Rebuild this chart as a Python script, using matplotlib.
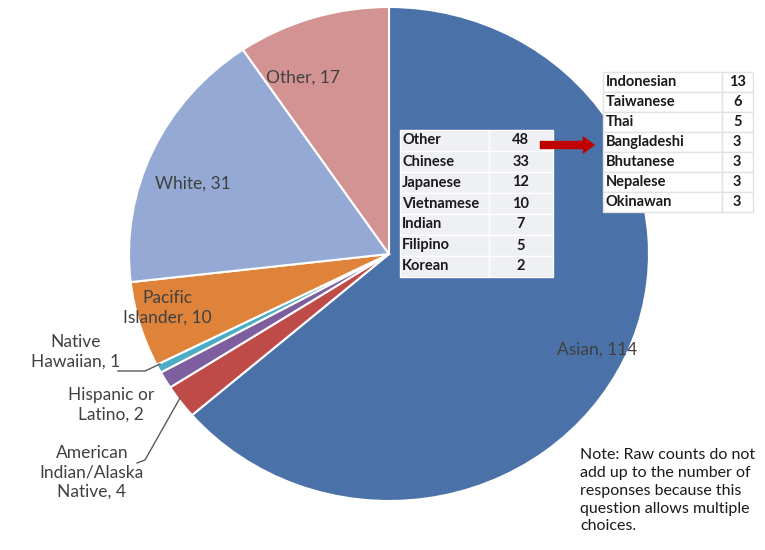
import matplotlib.pyplot as plt

plt.rcParams['font.family'] = ['Lato', 'DejaVu Sans']

# pie data, clockwise from 12 o'clock
groups = ['Asian', 'American Indian/Alaska Native', 'Hispanic or Latino',
          'Native Hawaiian', 'Pacific Islander', 'White', 'Other']
counts = [114, 4, 2, 1, 10, 31, 17]
colors = ['#4A72A8', '#BE4B48', '#7D5FA0', '#4BACC6', '#E0833A', '#94A9D4', '#D39393']

# breakdown of Asian
asian_names = ['Other', 'Chinese', 'Japanese', 'Vietnamese', 'Indian', 'Filipino', 'Korean']
asian_counts = [48, 33, 12, 10, 7, 5, 2]
other_names = ['Indonesian', 'Taiwanese', 'Thai', 'Bangladeshi', 'Bhutanese', 'Nepalese', 'Okinawan']
other_counts = [13, 6, 5, 3, 3, 3, 3]

W, H = 765, 550
fig = plt.figure(figsize=(W / 100, H / 100), dpi=100)

# pie is slightly squashed in the original, so give it its own axes
pax = fig.add_axes([129 / W, (H - 501) / H, 520 / W, 494 / H])
pax.pie(counts, colors=colors, startangle=90, counterclock=False, radius=1,
        wedgeprops=dict(edgecolor='white', linewidth=1.5))
pax.set_aspect('auto')
pax.set_xlim(-1, 1)
pax.set_ylim(-1, 1)
pax.axis('off')

# overlay in pixel coords for labels, tables, notes
ax = fig.add_axes([0, 0, 1, 1])
ax.set_xlim(0, W)
ax.set_ylim(0, H)
ax.axis('off')

fs = 12.5
tc = '#404040'
ax.text(303, H - 78, 'Other, 17', ha='center', va='center', fontsize=fs, color=tc)
ax.text(193, H - 184, 'White, 31', ha='center', va='center', fontsize=fs, color=tc)
ax.text(167, H - 308, 'Pacific\nIslander, 10', ha='center', va='center', fontsize=fs,
        color=tc, linespacing=1.25)
ax.text(597, H - 350, 'Asian, 114', ha='center', va='center', fontsize=fs, color=tc)
ax.text(76, H - 352, 'Native\nHawaiian, 1', ha='center', va='center', fontsize=fs,
        color=tc, linespacing=1.25)
ax.text(111, H - 405, 'Hispanic or\nLatino, 2', ha='center', va='center', fontsize=fs,
        color=tc, linespacing=1.25)
ax.text(92, H - 472, 'American\nIndian/Alaska\nNative, 4', ha='center', va='center',
        fontsize=fs, color=tc, linespacing=1.25)

# leader lines
ax.plot([118, 145, 160], [H - 371, H - 371, H - 364], color='#595959', lw=1)
ax.plot([137, 145, 180], [H - 463, H - 460, H - 398], color='#595959', lw=1)

# tables
def draw_table(names, vals, bbox, split, bg, edge):
    t = ax.table(cellText=[[n, str(v)] for n, v in zip(names, vals)],
                 cellLoc='left', colWidths=[split, 1 - split], bbox=bbox)
    t.set_zorder(5)
    t.auto_set_font_size(False)
    for (r, c), cell in t.get_celld().items():
        cell.set_facecolor(bg)
        cell.set_edgecolor(edge)
        cell.set_linewidth(1)
        cell.get_text().set_fontsize(10.5)
        cell.get_text().set_fontweight('bold')
        cell.get_text().set_color('#1a1a1a')
        if c == 1:
            cell.get_text().set_horizontalalignment('center')
        else:
            cell.PAD = 0.025
    return t

draw_table(asian_names, asian_counts, [400 / W, (H - 277) / H, 153 / W, 147 / H],
           0.58, '#EEF0F4', '#FFFFFF')
draw_table(other_names, other_counts, [603 / W, (H - 212) / H, 150 / W, 140 / H],
           0.79, '#FFFFFF', '#E2E2E2')

ax.annotate('', xy=(598, H - 145), xytext=(537, H - 145), zorder=6,
            arrowprops=dict(arrowstyle='simple,head_width=1.3,head_length=0.9,tail_width=0.6',
                            color='#C00000', lw=0))

ax.text(580, H - 448, 'Note: Raw counts do not\nadd up to the number of\nresponses because this\n'
        'question allows multiple\nchoices.', ha='left', va='top', fontsize=11.5,
        color='#1a1a1a', linespacing=1.35)

fig.savefig('out.png', dpi=100)
